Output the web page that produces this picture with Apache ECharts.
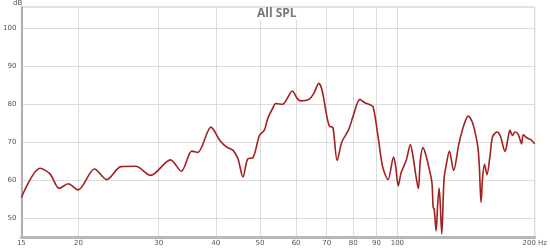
<!DOCTYPE html>
<html>
<head>
<meta charset="utf-8">
<script src="https://cdn.jsdelivr.net/npm/echarts@6/dist/echarts.min.js"></script>
<style>html,body{margin:0;padding:0;background:#fff;}#c{width:550px;height:248px;}</style>
</head>
<body>
<div id="c"></div>
<script>
const freqs = [15.0,16.49,17.33,18.16,19.00,19.96,21.70,23.07,24.80,26.72,28.80,31.82,33.62,35.45,36.52,39.05,40.84,42.21,43.65,44.75,45.88,47.04,48.22,49.86,51.12,51.97,53.29,54.17,56.01,58.88,60.36,61.37,64.00,65.61,67.27,68.39,70.11,71.06,72.24,73.81,75.56,78.13,80.10,82.79,84.87,87.02,88.51,90.76,92.28,93.34,95.41,98.12,99.10,100.45,101.96,104.54,106.80,108.42,109.51,111.16,112.28,113.80,115.52,117.43,119.03,119.80,120.40,121.61,122.46,123.44,124.06,125.12,126.56,128.08,130.02,132.84,136.40,139.85,142.95,145.83,148.26,150.27,151.25,152.54,153.76,155.30,157.17,159.78,161.62,165.21,167.96,172.20,174.54,176.56,178.59,181.02,183.48,184.95,187.18,188.68,191.25,193.45,196.08,200];
const spl = [55.4,63.1,61.6,57.8,59.0,57.4,62.9,60.1,63.5,63.6,61.2,65.3,62.3,67.6,67.2,73.9,70.4,68.7,67.8,65.6,60.8,65.6,65.8,71.7,73.1,76.1,78.8,80.1,79.9,83.4,81.4,80.8,81.2,82.8,85.4,83.6,76.6,74.1,73.8,65.1,70.0,73.1,77.0,81.2,80.3,79.8,79.2,71.3,65.1,62.5,60.1,66.0,63.8,58.5,62.0,65.1,69.3,65.6,62.0,57.7,65.1,68.5,66.5,62.9,59.4,52.8,52.4,46.6,52.8,57.9,54.6,45.8,60.3,64.2,67.6,62.5,69.5,74.4,76.8,75.3,72.2,68.2,63.4,54.1,60.7,64.1,61.4,66.9,71.3,72.6,71.7,67.5,70.6,73.1,71.7,72.6,72.2,71.3,69.5,71.9,71.3,70.9,70.6,69.5];
const xTicks = [15,20,30,40,50,60,70,80,90,100,200];
const yTicks = [50,60,70,80,90,100];
const title = 'All SPL';
const yUnit = 'dB';

const chart = echarts.init(document.getElementById('c'), null, {renderer:'canvas'});
chart.setOption({
  animation:false,
  backgroundColor:'#fff',
  title:{text:title,left:256,top:8,padding:[0,1],backgroundColor:'#fff',
    textStyle:{fontFamily:'Open Sans',fontSize:12,fontWeight:'bold',color:'#777'}},
  graphic:[{type:'text',left:13,top:0,style:{text:yUnit,font:'7px "DejaVu Sans"',fill:'#555'}}],
  grid:{left:21,right:10,top:7,bottom:11,show:true,borderColor:'#c4c4c4',borderWidth:1},
  xAxis:{type:'log',logBase:10,min:15,max:200,
    axisLine:{show:true,onZero:false,lineStyle:{color:'#b8b8b8',width:3}},
    axisTick:{show:false,customValues:xTicks},
    axisLabel:{customValues:xTicks,fontSize:7,color:'#555',margin:3,fontFamily:'DejaVu Sans',
      formatter:v=>Math.round(v)===200?'200 Hz':String(Math.round(v))},
    splitLine:{show:true,lineStyle:{color:'#dcdcdc',width:1}}},
  yAxis:{type:'value',min:45,max:105.5,
    axisLine:{show:true,lineStyle:{color:'#b0b0b0',width:2}},
    axisTick:{show:false,customValues:yTicks},
    axisLabel:{customValues:yTicks,fontSize:7,color:'#555',margin:5,fontFamily:'DejaVu Sans'},
    splitLine:{show:true,lineStyle:{color:'#dcdcdc',width:1}}},
  series:[{type:'line',data:freqs.map((f,i)=>[f,spl[i]]),smooth:0.3,showSymbol:false,
    lineStyle:{color:'#a3201e',width:1.6}}]
});
</script>
</body>
</html>
